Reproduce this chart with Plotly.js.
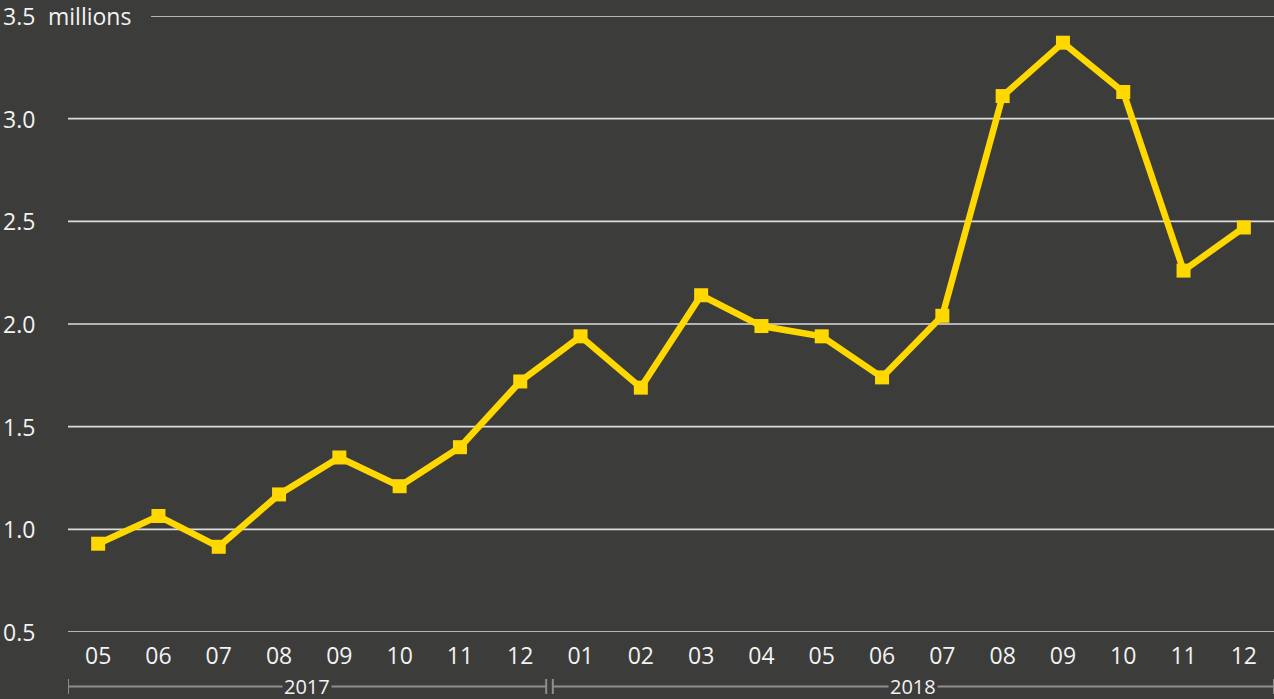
<!DOCTYPE html>
<html>
<head>
<meta charset="utf-8">
<script src="https://cdn.plot.ly/plotly-3.0.1.min.js"></script>
<style>
  html, body { margin: 0; padding: 0; background: #3c3c3a; }
  #chart { width: 1274px; height: 699px; }
</style>
</head>
<body>
<div id="chart"></div>
<script>
// ---- Data ----
const periods = ['2017-05','2017-06','2017-07','2017-08','2017-09','2017-10','2017-11','2017-12',
                 '2018-01','2018-02','2018-03','2018-04','2018-05','2018-06','2018-07','2018-08',
                 '2018-09','2018-10','2018-11','2018-12'];
const monthLabels = ['05','06','07','08','09','10','11','12',
                     '01','02','03','04','05','06','07','08','09','10','11','12'];
const values = [0.93, 1.065, 0.915, 1.17, 1.35, 1.21, 1.40, 1.72,
                1.94, 1.69, 2.14, 1.99, 1.94, 1.74, 2.04, 3.11, 3.37, 3.13, 2.26, 2.47];
const yTickVals = [0.5, 1.0, 1.5, 2.0, 2.5, 3.0, 3.5];
const yTickText = ['0.5', '1.0', '1.5', '2.0', '2.5', '3.0', '3.5'];
const unitLabel = 'millions';
const years = ['2017', '2018'];
const yearFirstIdx = [0, 8];
const yearLastIdx = [7, 19];

// ---- Layout helpers ----
const W = 1274, H = 699;
const M = { l: 68, r: 0, t: 16, b: 67 };
const plotW = W - M.l - M.r, plotH = H - M.t - M.b;
const pxX = px => (px - M.l) / plotW;           // pixel x -> paper x
const pxY = px => (H - M.b - px) / plotH;        // pixel y -> paper y

const bg = '#3c3c3a';
const textColor = '#f2f2f2';
const font = 'Open Sans, Noto Sans, sans-serif';

const shapes = [];
const annotations = [];

// gridlines
yTickVals.forEach((v, i) => {
  const isTop = i === yTickVals.length - 1;
  shapes.push({
    type: 'line', layer: 'below', xref: 'paper', yref: 'y',
    x0: isTop ? pxX(151) : 0, x1: 1, y0: v, y1: v,
    line: { color: '#dcdcdc', width: 1.6 }
  });
  annotations.push({
    xref: 'paper', yref: 'y', x: pxX(1), y: v, xanchor: 'left', yanchor: 'middle',
    text: yTickText[i], showarrow: false, font: { family: font, size: 23, color: textColor }
  });
});
annotations.push({
  xref: 'paper', yref: 'y', x: pxX(46), y: yTickVals[yTickVals.length - 1],
  xanchor: 'left', yanchor: 'middle', text: unitLabel, showarrow: false,
  font: { family: font, size: 23, color: textColor }
});

// year brackets
const bracketY = pxY(686.5), tickTop = pxY(679), tickBot = pxY(694);
const bracketColor = '#8e8e8e';
years.forEach((yr, i) => {
  const x0 = yearFirstIdx[i] - 0.5 + (i === 0 ? 0 : 0.04);
  const x1 = yearLastIdx[i] + 0.5 - (i === 0 ? 0.07 : 0);
  shapes.push({ type: 'line', xref: 'x', yref: 'paper', x0: x0, x1: x1, y0: bracketY, y1: bracketY,
                line: { color: bracketColor, width: 2 } });
  shapes.push({ type: 'line', xref: 'x', yref: 'paper', x0: x0, x1: x0, y0: tickTop, y1: tickBot,
                line: { color: bracketColor, width: 2 } });
  shapes.push({ type: 'line', xref: 'x', yref: 'paper', x0: x1, x1: x1, y0: tickTop, y1: tickBot,
                line: { color: bracketColor, width: 2 } });
  annotations.push({
    xref: 'x', yref: 'paper', x: (x0 + x1) / 2, y: bracketY, xanchor: 'center', yanchor: 'middle',
    text: yr, showarrow: false, bgcolor: bg, borderpad: 1,
    font: { family: font, size: 20, color: textColor }
  });
});

const trace = {
  type: 'scatter', mode: 'lines+markers',
  x: periods.map((p, i) => i), y: values,
  line: { color: '#ffd800', width: 6.5 },
  marker: { symbol: 'square', size: 14, color: '#ffd800' },
  cliponaxis: false, hoverinfo: 'skip'
};

const layout = {
  width: W, height: H,
  margin: M,
  paper_bgcolor: bg, plot_bgcolor: bg,
  showlegend: false,
  xaxis: {
    type: 'linear', range: [-0.5, periods.length - 0.5],
    tickmode: 'array', tickvals: periods.map((p, i) => i), ticktext: monthLabels,
    showgrid: false, zeroline: false, showline: false,
    ticks: 'outside', ticklen: 3, tickcolor: 'rgba(0,0,0,0)',
    tickfont: { family: font, size: 23, color: textColor }
  },
  yaxis: {
    range: [0.5, 3.5], showgrid: false, zeroline: false, showline: false,
    showticklabels: false, ticks: ''
  },
  shapes: shapes,
  annotations: annotations
};

Plotly.newPlot('chart', [trace], layout, { displayModeBar: false, staticPlot: true });
</script>
</body>
</html>
